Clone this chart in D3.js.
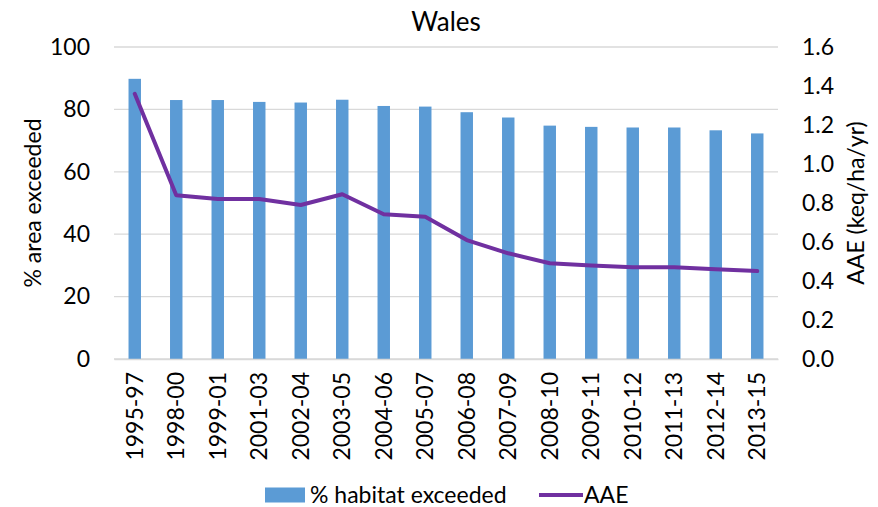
<!DOCTYPE html>
<html>
<head>
<meta charset="utf-8">
<script src="https://cdn.jsdelivr.net/npm/d3@7"></script>
<style>
  body { margin: 0; background: #fff; }
  text { font-family: Lato, "Open Sans", sans-serif; fill: #000; }
</style>
</head>
<body>
<div id="chart"></div>
<script>
// data
const periods = ["1995-97", "1998-00", "1999-01", "2001-03", "2002-04", "2003-05", "2004-06", "2005-07",
  "2006-08", "2007-09", "2008-10", "2009-11", "2010-12", "2011-13", "2012-14", "2013-15"];
const habitatExceeded = [89.8, 83.0, 83.0, 82.4, 82.2, 83.1, 81.1, 80.9, 79.1, 77.4, 74.8, 74.4, 74.2, 74.2, 73.3, 72.3];
const aae = [1.36, 0.84, 0.82, 0.82, 0.79, 0.845, 0.742, 0.73, 0.61, 0.542, 0.491, 0.48, 0.47, 0.47, 0.46, 0.451];
const leftTicks = [0, 20, 40, 60, 80, 100];
const rightTicks = [0, 0.2, 0.4, 0.6, 0.8, 1.0, 1.2, 1.4, 1.6];

const W = 878, H = 507;
const margin = { top: 47, right: 100, bottom: 148, left: 114 };
const width = W - margin.left - margin.right;
const height = H - margin.top - margin.bottom;
const fs = "23px";

const svg = d3.select("#chart")
  .append("svg")
    .attr("width", W)
    .attr("height", H);

const g = svg.append("g")
  .attr("transform", `translate(${margin.left},${margin.top})`);

// scales
const x = d3.scaleBand()
  .domain(periods)
  .range([0, width])
  .paddingInner(0.7)
  .paddingOuter(0.35);

const yL = d3.scaleLinear().domain([0, 100]).range([height, 0]);
const yR = d3.scaleLinear().domain([0, 1.6]).range([height, 0]);

// gridlines
g.append("g")
  .selectAll("line")
  .data(leftTicks)
  .enter()
  .append("line")
    .attr("x1", 0)
    .attr("x2", width)
    .attr("y1", d => yL(d))
    .attr("y2", d => yL(d))
    .attr("stroke", "#d9d9d9")
    .attr("stroke-width", 1.3);

// bars
g.selectAll("rect.bar")
  .data(periods)
  .enter()
  .append("rect")
    .attr("class", "bar")
    .attr("x", d => x(d))
    .attr("y", (d, i) => yL(habitatExceeded[i]))
    .attr("width", x.bandwidth())
    .attr("height", (d, i) => height - yL(habitatExceeded[i]))
    .attr("fill", "#5b9bd5");

// line
const line = d3.line()
  .x((d, i) => x(periods[i]) + x.bandwidth() / 2)
  .y(d => yR(d));

g.append("path")
  .datum(aae)
  .attr("d", line)
  .attr("fill", "none")
  .attr("stroke", "#7030a0")
  .attr("stroke-width", 4)
  .attr("stroke-linejoin", "round")
  .attr("stroke-linecap", "round");

// left axis
const axL = g.append("g")
  .call(d3.axisLeft(yL).tickValues(leftTicks).tickSize(0).tickPadding(24));
axL.select(".domain").remove();
axL.selectAll("text").style("font-size", fs);

// right axis
const axR = g.append("g")
  .attr("transform", `translate(${width},0)`)
  .call(d3.axisRight(yR).tickValues(rightTicks).tickSize(0).tickPadding(24).tickFormat(d3.format(".1f")));
axR.select(".domain").remove();
axR.selectAll("text").style("font-size", fs);

// x axis
const axX = g.append("g")
  .attr("transform", `translate(0,${height})`)
  .call(d3.axisBottom(x).tickSize(0).tickPadding(0));
axX.select(".domain").attr("stroke", "#d9d9d9").attr("stroke-width", 1.3);
axX.selectAll("text")
  .style("font-size", fs)
  .attr("transform", "rotate(-90)")
  .attr("x", -13)
  .attr("y", 0)
  .attr("dy", "0.35em")
  .style("text-anchor", "end");

// title
svg.append("text")
  .attr("x", margin.left + width / 2)
  .attr("y", 31)
  .style("text-anchor", "middle")
  .style("font-size", "26px")
  .text("Wales");

// axis titles
svg.append("text")
  .attr("transform", `translate(41,${margin.top + height / 2}) rotate(-90)`)
  .style("text-anchor", "middle")
  .style("font-size", fs)
  .text("% area exceeded");

svg.append("text")
  .attr("transform", `translate(864,${margin.top + height / 2}) rotate(-90)`)
  .style("text-anchor", "middle")
  .style("font-size", fs)
  .text("AAE (keq/ha/yr)");

// legend
const legend = svg.append("g").attr("transform", "translate(265,495)");
legend.append("rect")
  .attr("x", 0).attr("y", -7.5)
  .attr("width", 40).attr("height", 15)
  .attr("fill", "#5b9bd5");
legend.append("text")
  .attr("x", 45).attr("y", 0).attr("dy", "0.35em")
  .style("font-size", fs)
  .text("% habitat exceeded");
legend.append("line")
  .attr("x1", 274).attr("x2", 318)
  .attr("y1", 0).attr("y2", 0)
  .attr("stroke", "#7030a0")
  .attr("stroke-width", 4);
legend.append("text")
  .attr("x", 319).attr("y", 0).attr("dy", "0.35em")
  .style("font-size", fs)
  .text("AAE");
</script>
</body>
</html>
